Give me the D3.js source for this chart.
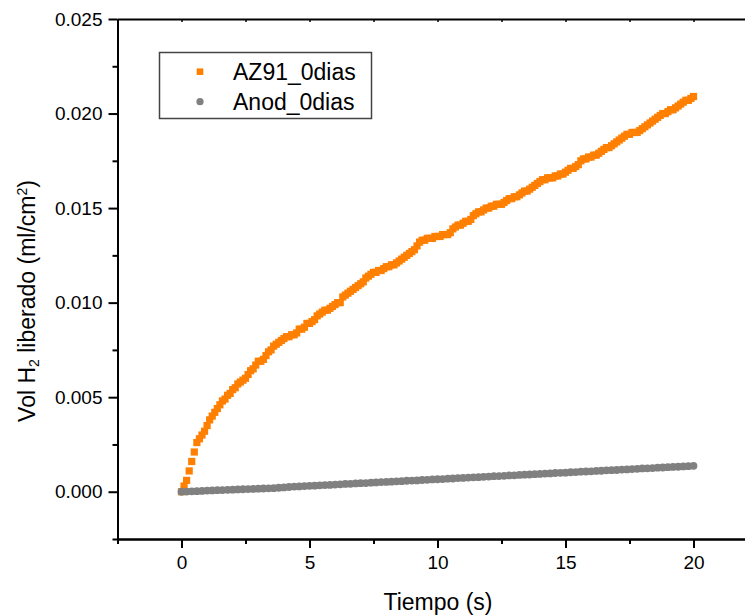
<!DOCTYPE html>
<html>
<head>
<meta charset="utf-8">
<script src="https://cdn.jsdelivr.net/npm/d3@7"></script>
<style>
  html, body { margin: 0; padding: 0; background: #fff; }
  svg { display: block; }
  text { font-family: "Liberation Sans", Arial, sans-serif; fill: #000; }
</style>
</head>
<body>
<svg id="chart" width="745" height="615"></svg>
<script>
// ---------------- DATA ----------------
const seriesNames = ["AZ91_0dias", "Anod_0dias"];
const seriesColors = ["#FF7F00", "#808080"];

// AZ91_0dias, sampled every 0.1 s from 0 to 20 s (ml/cm2)
const az91Step = 0.1;
const az91Values = [
  0.0000,0.0003,0.0006,0.0011,0.0016,0.0021,0.0026,0.0028,0.0030,0.0032,
  0.0035,0.0038,0.0040,0.0042,0.0044,0.0046,0.0048,0.0049,0.0051,0.0052,
  0.0054,0.0055,0.0057,0.0058,0.0059,0.0060,0.0062,0.0064,0.0065,0.0067,
  0.0069,0.0069,0.0070,0.0072,0.0074,0.0075,0.0077,0.0078,0.0079,0.0080,
  0.0081,0.0082,0.0082,0.0083,0.0083,0.0084,0.0086,0.0086,0.0087,0.0089,
  0.0089,0.0090,0.0091,0.0093,0.0094,0.0095,0.0096,0.0096,0.0097,0.0098,
  0.0099,0.0100,0.0100,0.0103,0.0104,0.0105,0.0106,0.0107,0.0108,0.0109,
  0.0110,0.0111,0.0113,0.0114,0.0115,0.0116,0.0116,0.0117,0.0117,0.0118,
  0.0119,0.0119,0.0120,0.0120,0.0121,0.0122,0.0123,0.0124,0.0125,0.0126,
  0.0127,0.0128,0.0130,0.0132,0.0133,0.0133,0.0134,0.0134,0.0134,0.0135,
  0.0135,0.0135,0.0136,0.0136,0.0136,0.0137,0.0139,0.0140,0.0141,0.0141,
  0.0142,0.0143,0.0143,0.0144,0.0146,0.0147,0.0148,0.0148,0.0149,0.0150,
  0.0150,0.0151,0.0151,0.0152,0.0152,0.0152,0.0153,0.0154,0.0155,0.0155,
  0.0156,0.0156,0.0157,0.0158,0.0159,0.0159,0.0160,0.0161,0.0162,0.0163,
  0.0164,0.0165,0.0165,0.0166,0.0166,0.0166,0.0167,0.0167,0.0168,0.0168,
  0.0169,0.0170,0.0171,0.0171,0.0172,0.0173,0.0175,0.0176,0.0176,0.0177,
  0.0177,0.0178,0.0178,0.0179,0.0180,0.0181,0.0182,0.0182,0.0183,0.0184,
  0.0185,0.0186,0.0187,0.0188,0.0189,0.0189,0.0190,0.0190,0.0190,0.0191,
  0.0192,0.0193,0.0194,0.0195,0.0196,0.0197,0.0198,0.0199,0.0200,0.0200,
  0.0201,0.0202,0.0202,0.0203,0.0204,0.0205,0.0206,0.0207,0.0207,0.0208,
  0.0209
];

// Anod_0dias, sampled every 0.2 s from 0 to 20 s (ml/cm2)
const anodStep = 0.2;
const anodValues = [
  0.00000,0.00001,0.00002,0.00003,0.00004,0.00006,0.00007,0.00008,0.00009,0.00010,
  0.00011,0.00012,0.00013,0.00014,0.00015,0.00016,0.00017,0.00018,0.00019,0.00021,
  0.00023,0.00025,0.00027,0.00028,0.00030,0.00031,0.00032,0.00034,0.00035,0.00036,
  0.00038,0.00039,0.00041,0.00042,0.00044,0.00045,0.00046,0.00048,0.00049,0.00051,
  0.00052,0.00053,0.00055,0.00056,0.00058,0.00059,0.00060,0.00062,0.00063,0.00065,
  0.00066,0.00067,0.00069,0.00070,0.00072,0.00073,0.00075,0.00076,0.00077,0.00079,
  0.00080,0.00082,0.00083,0.00084,0.00086,0.00087,0.00089,0.00090,0.00091,0.00093,
  0.00094,0.00096,0.00097,0.00099,0.00100,0.00101,0.00103,0.00104,0.00106,0.00107,
  0.00108,0.00110,0.00111,0.00113,0.00114,0.00115,0.00117,0.00118,0.00120,0.00121,
  0.00123,0.00124,0.00125,0.00127,0.00128,0.00130,0.00131,0.00132,0.00134,0.00135,
  0.00137
];

const xMajorTicks = [0, 5, 10, 15, 20];
const xMinorTicks = [-2.5, 2.5, 7.5, 12.5, 17.5, 22.5];
const yMajorTicks = [0.000, 0.005, 0.010, 0.015, 0.020, 0.025];
const yMinorTicks = [-0.0025, 0.0025, 0.0075, 0.0125, 0.0175, 0.0225];
const xTitle = "Tiempo (s)";

// ---------------- CHART ----------------
const svg = d3.select("#chart");
const x = d3.scaleLinear().domain([-2.5, 22.5]).range([117.5, 757.5]);
const y = d3.scaleLinear().domain([-0.0025, 0.025]).range([539, 19]);

const az91 = az91Values.map((v, i) => ({ t: +(i * az91Step).toFixed(2), v }));
const anod = anodValues.map((v, i) => ({ t: +(i * anodStep).toFixed(2), v }));

// markers: orange first, grey on top
const sq = 7.2;
svg.append("g").selectAll("rect").data(az91).join("rect")
  .attr("x", d => x(d.t) - sq / 2)
  .attr("y", d => y(d.v) - sq / 2)
  .attr("width", sq).attr("height", sq)
  .attr("fill", seriesColors[0]);

svg.append("g").selectAll("circle").data(anod).join("circle")
  .attr("cx", d => x(d.t))
  .attr("cy", d => y(d.v))
  .attr("r", 3.9)
  .attr("fill", seriesColors[1]);

// axes
function styleAxis(g) {
  g.selectAll(".domain").attr("stroke", "#000").attr("stroke-width", 2);
  g.selectAll(".tick line").attr("stroke", "#000").attr("stroke-width", 2);
  g.selectAll(".tick text").style("font-family", "'Liberation Sans', Arial, sans-serif")
    .style("font-size", "19px").attr("fill", "#000");
}

// bottom
const gx = svg.append("g").attr("transform", "translate(0,539)")
  .call(d3.axisBottom(x).tickValues(xMajorTicks).tickSize(9).tickSizeOuter(0)
    .tickPadding(8).tickFormat(d3.format("d")));
styleAxis(gx);
const gxm = svg.append("g").attr("transform", "translate(0,539)")
  .call(d3.axisBottom(x).tickValues(xMinorTicks).tickSize(5).tickSizeOuter(0).tickFormat(""));
styleAxis(gxm);

// top
const gt = svg.append("g").attr("transform", "translate(0,19)")
  .call(d3.axisTop(x).tickValues(xMajorTicks.concat(xMinorTicks)).tickSize(-3).tickSizeOuter(0).tickFormat(""));
styleAxis(gt);
gt.selectAll(".tick line").attr("stroke-width", 1.5);

// left
const gy = svg.append("g").attr("transform", "translate(117.5,0)")
  .call(d3.axisLeft(y).tickValues(yMajorTicks).tickSize(9).tickSizeOuter(0)
    .tickPadding(6).tickFormat(d3.format(".3f")));
styleAxis(gy);
const gym = svg.append("g").attr("transform", "translate(117.5,0)")
  .call(d3.axisLeft(y).tickValues(yMinorTicks).tickSize(5).tickSizeOuter(0).tickFormat(""));
styleAxis(gym);

// axis titles
svg.append("text")
  .attr("x", 438).attr("y", 610)
  .attr("text-anchor", "middle")
  .style("font-size", "23px")
  .text(xTitle);

const yt = svg.append("text")
  .attr("transform", "translate(35,301) rotate(-90)")
  .attr("text-anchor", "middle")
  .style("font-size", "23px");
yt.append("tspan").text("Vol H");
yt.append("tspan").attr("baseline-shift", "-25%").style("font-size", "14px").text("2");
yt.append("tspan").text(" liberado (ml/cm");
yt.append("tspan").attr("baseline-shift", "55%").style("font-size", "14px").text("2");
yt.append("tspan").text(")");

// legend
const lg = svg.append("g");
lg.append("rect")
  .attr("x", 159.5).attr("y", 52.5).attr("width", 212).attr("height", 66)
  .attr("fill", "#fff").attr("stroke", "#444").attr("stroke-width", 1.5);
const legendRows = [71.7, 101.7];
seriesNames.forEach((name, i) => {
  const cy = legendRows[i];
  if (i === 0) {
    lg.append("rect").attr("x", 200 - 3.3).attr("y", cy - 3.3)
      .attr("width", 6.6).attr("height", 6.6).attr("fill", seriesColors[0]);
  } else {
    lg.append("circle").attr("cx", 200).attr("cy", cy).attr("r", 3.6).attr("fill", seriesColors[1]);
  }
  lg.append("text").attr("x", 233).attr("y", cy + 8)
    .style("font-size", "23px").text(name);
});
</script>
</body>
</html>
